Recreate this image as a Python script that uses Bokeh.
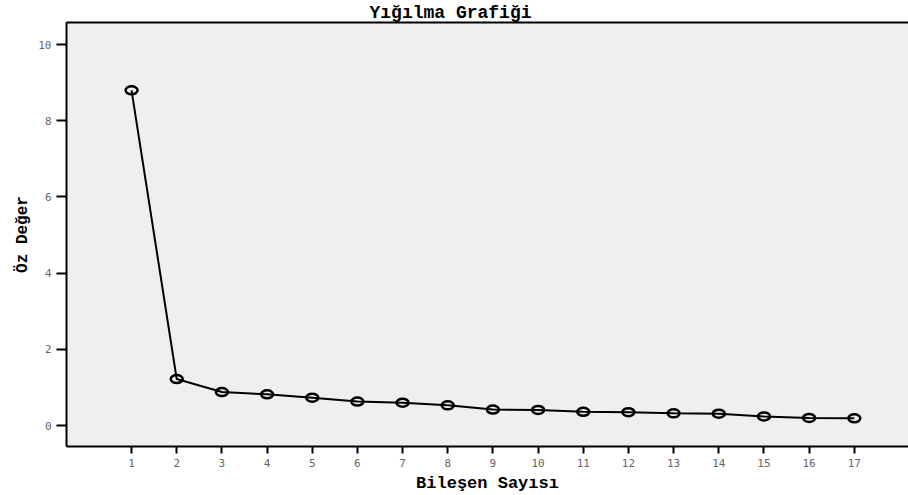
from bokeh.plotting import figure
from bokeh.models import Range1d, FixedTicker, ColumnDataSource, LinearAxis, Title
from bokeh.embed import file_html
from bokeh.resources import INLINE

components = list(range(1, 18))
eigenvalues = [8.80, 1.22, 0.88, 0.82, 0.73, 0.63, 0.60, 0.53, 0.42, 0.41,
               0.36, 0.35, 0.32, 0.31, 0.24, 0.20, 0.19]
y_ticks = [0, 2, 4, 6, 8, 10]
title_text = "Yığılma Grafiği"
x_label = "Bileşen Sayısı"
y_label = "Öz Değer"

src = ColumnDataSource(dict(x=components, y=eigenvalues))

p = figure(width=908, height=495, output_backend="svg", toolbar_location=None,
           x_range=Range1d(-0.44, 18.2), y_range=Range1d(-0.55, 10.58),
           min_border_left=66, min_border_right=0, min_border_bottom=10,
           min_border_top=0, background_fill_color="#efefef",
           border_fill_color="white")
p.outline_line_color = None
p.grid.visible = False

t = Title(text=title_text, align="left", offset=303,
          text_font="Liberation Mono", text_font_size="18px",
          text_font_style="bold", text_color="black", standoff=0)
p.title = t

ax = p.xaxis[0]
ax.ticker = FixedTicker(ticks=components)
ax.axis_label = x_label
ax.axis_label_text_font = "Liberation Mono"
ax.axis_label_text_font_style = "bold"
ax.axis_label_text_font_size = "17px"
ax.axis_label_text_color = "black"
ax.axis_label_standoff = 4
ax.major_label_text_font = "DejaVu Sans Mono"
ax.major_label_text_font_size = "11px"
ax.major_label_text_color = "#666666"
ax.major_label_standoff = 5
ax.axis_line_width = 2
ax.major_tick_line_width = 2
ax.major_tick_out = 7
ax.major_tick_in = 0
ax.minor_tick_line_color = None

ay = p.yaxis[0]
ay.ticker = FixedTicker(ticks=y_ticks)
ay.axis_label = y_label
ay.axis_label_text_font = "Liberation Mono"
ay.axis_label_text_font_style = "bold"
ay.axis_label_text_font_size = "16px"
ay.axis_label_text_color = "black"
ay.axis_label_standoff = 3
ay.major_label_text_font = "DejaVu Sans Mono"
ay.major_label_text_font_size = "11px"
ay.major_label_text_color = "#666666"
ay.axis_line_width = 2
ay.major_tick_line_width = 2
ay.major_tick_out = 10
ay.major_tick_in = 0
ay.major_label_standoff = 5
ay.minor_tick_line_color = None

top = LinearAxis(ticker=FixedTicker(ticks=[]), major_label_text_font_size="0px",
                 axis_line_width=2, major_tick_line_color=None,
                 minor_tick_line_color=None)
p.add_layout(top, "above")

p.line("x", "y", source=src, line_color="black", line_width=2)
p.ellipse("x", "y", width=12, height=8, width_units="screen", height_units="screen",
          source=src, fill_color=None, line_color="black", line_width=2.5)

open("out.html", "w").write(file_html(p, INLINE))
